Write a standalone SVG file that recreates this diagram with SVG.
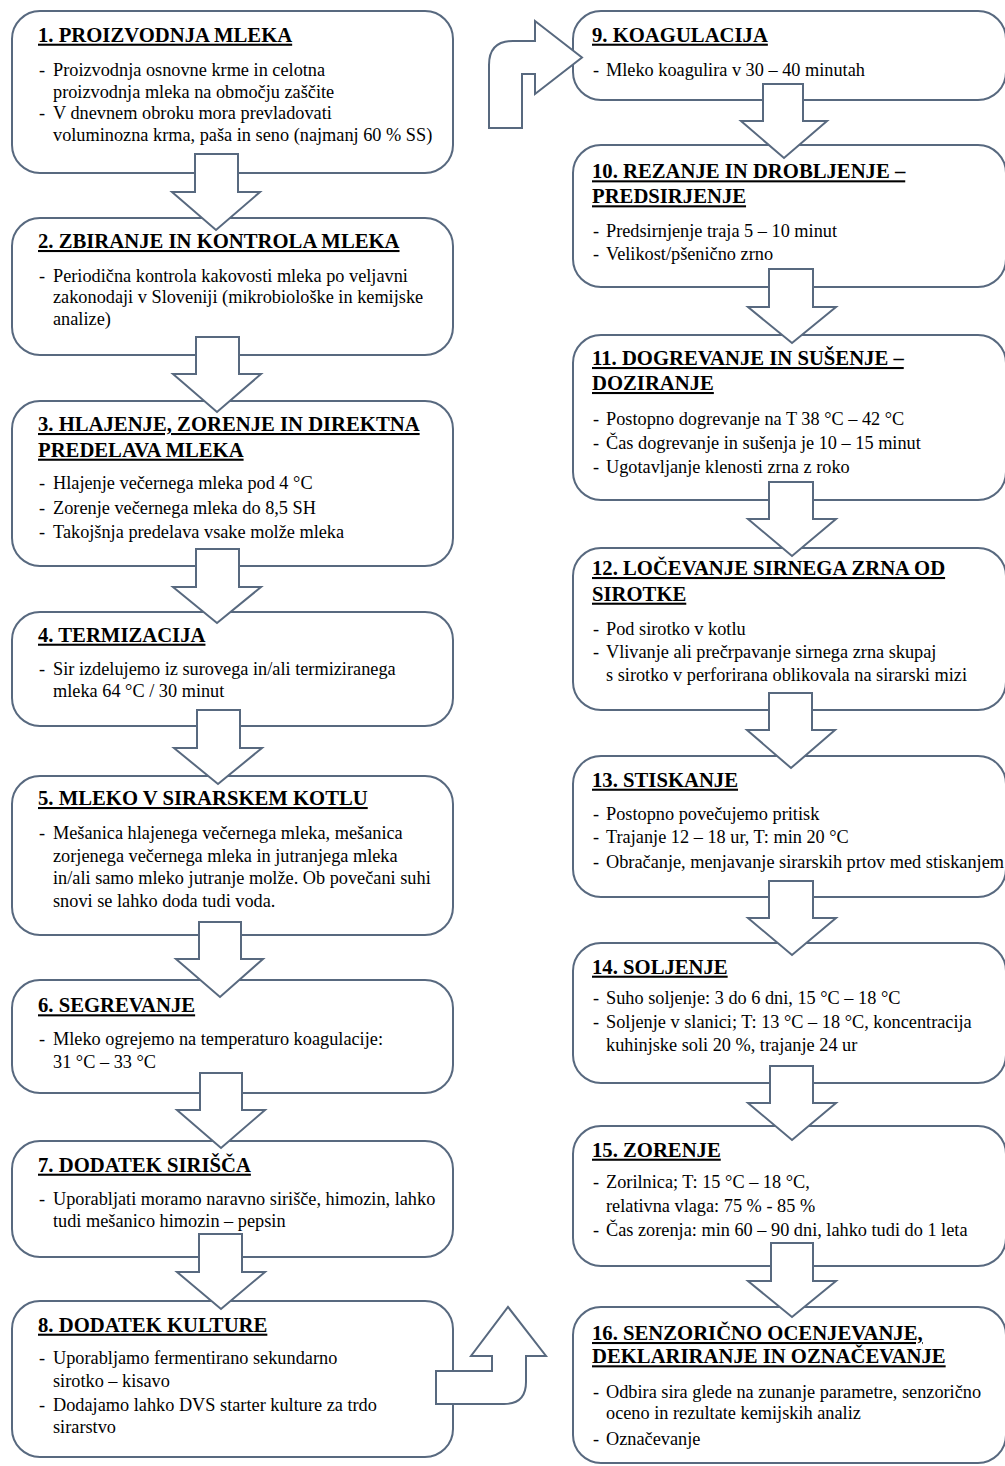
<svg xmlns="http://www.w3.org/2000/svg" width="1005" height="1466" viewBox="0 0 1005 1466">
<style>
.box{fill:#fff;stroke:#58697f;stroke-width:2}
.arr{fill:#fff;stroke:#58697f;stroke-width:2;stroke-linejoin:miter}
.t{font-family:"Liberation Serif","Times New Roman",serif;font-weight:bold;font-size:20.7px;fill:#000;text-decoration:underline}
.b{font-family:"Liberation Serif","Times New Roman",serif;font-size:18.3px;fill:#000}
</style>
<rect width="1005" height="1466" fill="#fff"/>
<g id="n1"><rect class="box" x="12" y="11" width="441" height="162" rx="28"/>
<text class="t" x="38" y="41.7">1. PROIZVODNJA MLEKA</text>
<text class="b"><tspan x="39" y="76">-</tspan><tspan x="53" y="76">Proizvodnja osnovne krme in celotna</tspan><tspan x="53" y="97.5">proizvodnja mleka na območju zaščite</tspan><tspan x="39" y="119">-</tspan><tspan x="53" y="119">V dnevnem obroku mora prevladovati</tspan><tspan x="53" y="140.5">voluminozna krma, paša in seno (najmanj 60 % SS)</tspan></text></g>
<g id="n2"><rect class="box" x="12" y="218" width="441" height="137" rx="28"/>
<text class="t" x="38" y="248">2. ZBIRANJE IN KONTROLA MLEKA</text>
<text class="b"><tspan x="39" y="281.7">-</tspan><tspan x="53" y="281.7">Periodična kontrola kakovosti mleka po veljavni</tspan><tspan x="53" y="303.4">zakonodaji v Sloveniji (mikrobiološke in kemijske</tspan><tspan x="53" y="325">analize)</tspan></text></g>
<g id="n3"><rect class="box" x="12" y="401" width="441" height="165" rx="28"/>
<text class="t"><tspan x="38" y="431">3. HLAJENJE, ZORENJE IN DIREKTNA</tspan><tspan x="38" y="456.7">PREDELAVA MLEKA</tspan></text>
<text class="b"><tspan x="39" y="489.3">-</tspan><tspan x="53" y="489.3">Hlajenje večernega mleka pod 4 °C</tspan><tspan x="39" y="513.5">-</tspan><tspan x="53" y="513.5">Zorenje večernega mleka do 8,5 SH</tspan><tspan x="39" y="537.7">-</tspan><tspan x="53" y="537.7">Takojšnja predelava vsake molže mleka</tspan></text></g>
<g id="n4"><rect class="box" x="12" y="612" width="441" height="114" rx="28"/>
<text class="t" x="38" y="641.7">4. TERMIZACIJA</text>
<text class="b"><tspan x="39" y="675">-</tspan><tspan x="53" y="675">Sir izdelujemo iz surovega in/ali termiziranega</tspan><tspan x="53" y="697.3">mleka 64 °C / 30 minut</tspan></text></g>
<g id="n5"><rect class="box" x="12" y="776" width="441" height="159" rx="28"/>
<text class="t" x="38" y="805">5. MLEKO V SIRARSKEM KOTLU</text>
<text class="b"><tspan x="39" y="838.7">-</tspan><tspan x="53" y="838.7">Mešanica hlajenega večernega mleka, mešanica</tspan><tspan x="53" y="861.5">zorjenega večernega mleka in jutranjega mleka</tspan><tspan x="53" y="884.2">in/ali samo mleko jutranje molže. Ob povečani suhi</tspan><tspan x="53" y="906.9">snovi se lahko doda tudi voda.</tspan></text></g>
<g id="n6"><rect class="box" x="12" y="980" width="441" height="113" rx="28"/>
<text class="t" x="38" y="1012.3">6. SEGREVANJE</text>
<text class="b"><tspan x="39" y="1045">-</tspan><tspan x="53" y="1045">Mleko ogrejemo na temperaturo koagulacije:</tspan><tspan x="53" y="1067.7">31 °C – 33 °C</tspan></text></g>
<g id="n7"><rect class="box" x="12" y="1141" width="441" height="116" rx="28"/>
<text class="t" x="38" y="1171.7">7. DODATEK SIRIŠČA</text>
<text class="b"><tspan x="39" y="1205">-</tspan><tspan x="53" y="1205">Uporabljati moramo naravno sirišče, himozin, lahko</tspan><tspan x="53" y="1227.3">tudi mešanico himozin – pepsin</tspan></text></g>
<g id="n8"><rect class="box" x="12" y="1301" width="441" height="156" rx="28"/>
<text class="t" x="38" y="1331.7">8. DODATEK KULTURE</text>
<text class="b"><tspan x="39" y="1364.3">-</tspan><tspan x="53" y="1364.3">Uporabljamo fermentirano sekundarno</tspan><tspan x="53" y="1386.7">sirotko – kisavo</tspan><tspan x="39" y="1410.7">-</tspan><tspan x="53" y="1410.7">Dodajamo lahko DVS starter kulture za trdo</tspan><tspan x="53" y="1433.3">sirarstvo</tspan></text></g>
<g id="n9"><rect class="box" x="573" y="11" width="433" height="89" rx="28"/>
<text class="t" x="592" y="41.7">9. KOAGULACIJA</text>
<text class="b"><tspan x="593" y="76">-</tspan><tspan x="606" y="76">Mleko koagulira v 30 – 40 minutah</tspan></text></g>
<g id="n10"><rect class="box" x="573" y="145" width="433" height="142" rx="28"/>
<text class="t"><tspan x="592" y="178.3">10. REZANJE IN DROBLJENJE –</tspan><tspan x="592" y="203.3">PREDSIRJENJE</tspan></text>
<text class="b"><tspan x="593" y="236.7">-</tspan><tspan x="606" y="236.7">Predsirnjenje traja 5 – 10 minut</tspan><tspan x="593" y="260">-</tspan><tspan x="606" y="260">Velikost/pšenično zrno</tspan></text></g>
<g id="n11"><rect class="box" x="573" y="335" width="433" height="165" rx="28"/>
<text class="t"><tspan x="592" y="365">11. DOGREVANJE IN SUŠENJE –</tspan><tspan x="592" y="390">DOZIRANJE</tspan></text>
<text class="b"><tspan x="593" y="425">-</tspan><tspan x="606" y="425">Postopno dogrevanje na T 38 °C – 42 °C</tspan><tspan x="593" y="449">-</tspan><tspan x="606" y="449">Čas dogrevanje in sušenja je 10 – 15 minut</tspan><tspan x="593" y="472.7">-</tspan><tspan x="606" y="472.7">Ugotavljanje klenosti zrna z roko</tspan></text></g>
<g id="n12"><rect class="box" x="573" y="548" width="433" height="162" rx="28"/>
<text class="t"><tspan x="592" y="575">12. LOČEVANJE SIRNEGA ZRNA OD</tspan><tspan x="592" y="600.7">SIROTKE</tspan></text>
<text class="b"><tspan x="593" y="635">-</tspan><tspan x="606" y="635">Pod sirotko v kotlu</tspan><tspan x="593" y="658.3">-</tspan><tspan x="606" y="658.3">Vlivanje ali prečrpavanje sirnega zrna skupaj</tspan><tspan x="606" y="680.7">s sirotko v perforirana oblikovala na sirarski mizi</tspan></text></g>
<g id="n13"><rect class="box" x="573" y="756" width="433" height="141" rx="28"/>
<text class="t" x="592" y="786.7">13. STISKANJE</text>
<text class="b"><tspan x="593" y="820">-</tspan><tspan x="606" y="820">Postopno povečujemo pritisk</tspan><tspan x="593" y="843.3">-</tspan><tspan x="606" y="843.3">Trajanje 12 – 18 ur, T: min 20 °C</tspan><tspan x="593" y="868">-</tspan><tspan x="606" y="868">Obračanje, menjavanje sirarskih prtov med stiskanjem</tspan></text></g>
<g id="n14"><rect class="box" x="573" y="943" width="433" height="140" rx="28"/>
<text class="t" x="592" y="973.7">14. SOLJENJE</text>
<text class="b"><tspan x="593" y="1004">-</tspan><tspan x="606" y="1004">Suho soljenje: 3 do 6 dni, 15 °C – 18 °C</tspan><tspan x="593" y="1028">-</tspan><tspan x="606" y="1028">Soljenje v slanici; T: 13 °C – 18 °C, koncentracija</tspan><tspan x="606" y="1050.5">kuhinjske soli 20 %, trajanje 24 ur</tspan></text></g>
<g id="n15"><rect class="box" x="573" y="1126" width="433" height="140" rx="28"/>
<text class="t" x="592" y="1156.7">15. ZORENJE</text>
<text class="b"><tspan x="593" y="1188.3">-</tspan><tspan x="606" y="1188.3">Zorilnica; T: 15 °C – 18 °C,</tspan><tspan x="606" y="1211.7">relativna vlaga: 75 % - 85 %</tspan><tspan x="593" y="1236">-</tspan><tspan x="606" y="1236">Čas zorenja: min 60 – 90 dni, lahko tudi do 1 leta</tspan></text></g>
<g id="n16"><rect class="box" x="573" y="1307" width="433" height="156" rx="28"/>
<text class="t"><tspan x="592" y="1340">16. SENZORIČNO OCENJEVANJE,</tspan><tspan x="592" y="1363.3">DEKLARIRANJE IN OZNAČEVANJE</tspan></text>
<text class="b"><tspan x="593" y="1398.3">-</tspan><tspan x="606" y="1398.3">Odbira sira glede na zunanje parametre, senzorično</tspan><tspan x="606" y="1419.3">oceno in rezultate kemijskih analiz</tspan><tspan x="593" y="1445">-</tspan><tspan x="606" y="1445">Označevanje</tspan></text></g>
<g id="connectors">
<path class="arr" d="M195,154 H238 V192 H260 L216,230 L172,192 H195 Z"/>
<path class="arr" d="M196,337 H239 V374 H261 L217,412 L173,374 H196 Z"/>
<path class="arr" d="M196,549 H239 V587 H261 L217,623 L173,587 H196 Z"/>
<path class="arr" d="M197,710 H240 V748 H262 L218,784 L174,748 H197 Z"/>
<path class="arr" d="M199,922 H241 V959 H263 L220,997 L176,959 H199 Z"/>
<path class="arr" d="M200,1073 H242 V1110 H265 L221,1148 L177,1110 H200 Z"/>
<path class="arr" d="M199,1234 H242 V1272 H265 L221,1309 L177,1272 H199 Z"/>
<path class="arr" d="M436,1371 H492 V1356 H471 L508,1307 L546,1356 H526 V1382 Q526,1404 504,1404 H436 Z"/>
<path class="arr" d="M489,128 V65 Q489,41 513,41 H535 V21 L582,57.5 L535,94 V74 H522 V128 Z"/>
<path class="arr" d="M763,84 H803 V121 H827 L784,158 L741,121 H763 Z"/>
<path class="arr" d="M769,269 H813 V307 H836 L792,343 L748,307 H769 Z"/>
<path class="arr" d="M769,482 H813 V519 H836 L792,556 L748,519 H769 Z"/>
<path class="arr" d="M769,693 H812 V730 H835 L791,768 L747,730 H769 Z"/>
<path class="arr" d="M769,881 H813 V918 H836 L792,955 L748,918 H769 Z"/>
<path class="arr" d="M770,1066 H813 V1103 H836 L792,1140 L748,1103 H770 Z"/>
<path class="arr" d="M771,1243 H813 V1281 H836 L792,1317 L748,1281 H771 Z"/>
</g>
</svg>
